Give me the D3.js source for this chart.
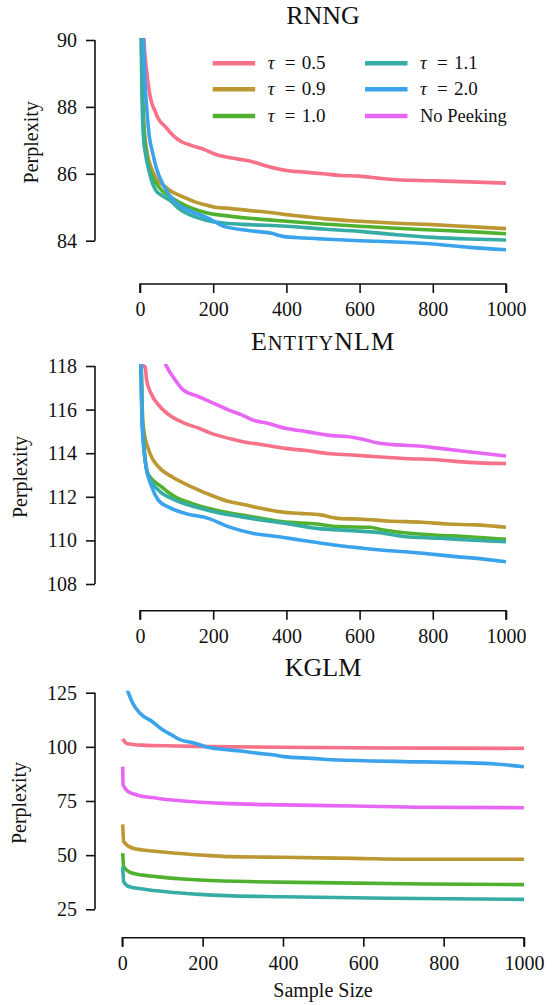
<!DOCTYPE html>
<html>
<head>
<meta charset="utf-8">
<script src="https://cdn.jsdelivr.net/npm/d3@7"></script>
<style>
  body { margin: 0; background: #fff; }
  svg { display: block; }
  text { font-family: "Liberation Serif", "DejaVu Serif", serif; fill: #111; }
</style>
</head>
<body>
<svg id="chart" width="554" height="1005"></svg>
<script>
// series labels + colours (husl palette)
const seriesNames = ["0.5", "0.9", "1.0", "1.1", "2.0", "No Peeking"]
const colors = ["#f77189", "#bb9832", "#50b131", "#36ada4", "#3ba3ec", "#e866f4"]

const xTicks = [0, 200, 400, 600, 800, 1000]

// RNNG  [sample size, perplexity]
const rnngT05 = [[0, 95], [10, 90.2], [18, 89.1], [25, 88.5], [30, 88.2], [40, 87.9], [50, 87.65], [70, 87.4], [90, 87.15], [115, 86.95], [140, 86.85], [170, 86.75], [210, 86.57], [250, 86.47], [300, 86.38], [350, 86.22], [400, 86.1], [450, 86.05], [500, 86.0], [550, 85.95], [600, 85.93], [650, 85.87], [700, 85.82], [800, 85.79], [900, 85.76], [1000, 85.72]]
const rnngT09 = [[0, 93], [5, 89.5], [10, 87.6], [20, 86.6], [30, 86.2], [45, 85.85], [68, 85.62], [85, 85.48], [109, 85.35], [130, 85.25], [150, 85.16], [175, 85.08], [205, 85.0], [250, 84.96], [300, 84.9], [350, 84.85], [400, 84.78], [450, 84.72], [500, 84.66], [600, 84.58], [700, 84.52], [800, 84.48], [900, 84.42], [1000, 84.36]]
const rnngT10 = [[0, 93], [5, 89.3], [10, 87.4], [20, 86.4], [30, 86.0], [45, 85.7], [60, 85.5], [77, 85.36], [105, 85.16], [141, 84.97], [187, 84.82], [232, 84.75], [300, 84.67], [400, 84.58], [500, 84.5], [600, 84.43], [700, 84.37], [800, 84.32], [900, 84.27], [1000, 84.21]]
const rnngT11 = [[0, 93], [5, 88.6], [9, 87.16], [15, 86.6], [23, 86.16], [36, 85.66], [45, 85.48], [59, 85.36], [87, 85.16], [105, 84.97], [137, 84.77], [178, 84.62], [232, 84.52], [300, 84.48], [400, 84.43], [500, 84.35], [600, 84.28], [700, 84.18], [800, 84.1], [900, 84.05], [1000, 84.02]]
const rnngT20 = [[0, 95], [9, 90.1], [14, 88.65], [17, 88.16], [25, 87.16], [35, 86.6], [45, 86.16], [64, 85.66], [96, 85.16], [141, 84.87], [187, 84.67], [215, 84.5], [223, 84.45], [300, 84.3], [360, 84.22], [390, 84.13], [450, 84.08], [500, 84.05], [600, 84.0], [700, 83.96], [800, 83.9], [900, 83.8], [1000, 83.73]]
const rnngNoPeek = []

// EntityNLM
const entT05 = [[0, 122], [9, 118], [14, 117.97], [18, 117.36], [30, 116.75], [55, 116.13], [87, 115.67], [123, 115.37], [160, 115.15], [195, 114.91], [250, 114.65], [282, 114.53], [339, 114.38], [397, 114.22], [455, 114.12], [512, 113.99], [580, 113.92], [647, 113.84], [724, 113.76], [820, 113.69], [897, 113.58], [1000, 113.53]]
const entT09 = [[0, 121], [5, 116.8], [9, 115.22], [27, 114.0], [50, 113.38], [87, 112.92], [141, 112.46], [205, 112.0], [243, 111.78], [291, 111.62], [330, 111.47], [378, 111.32], [436, 111.24], [493, 111.17], [541, 111.01], [609, 110.97], [676, 110.89], [772, 110.83], [840, 110.75], [917, 110.71], [1000, 110.6]]
const entT10 = [[0, 121], [5, 116.2], [10, 114.6], [21, 113.08], [59, 112.46], [96, 112.0], [141, 111.7], [205, 111.39], [278, 111.16], [320, 111.05], [387, 110.86], [484, 110.75], [541, 110.63], [628, 110.6], [657, 110.5], [724, 110.35], [801, 110.25], [897, 110.17], [1000, 110.05]]
const entT11 = [[0, 121], [5, 116.0], [10, 114.4], [23, 112.92], [50, 112.31], [96, 111.85], [150, 111.54], [214, 111.27], [278, 111.08], [330, 110.94], [397, 110.78], [484, 110.55], [580, 110.45], [657, 110.35], [724, 110.17], [820, 110.1], [897, 110.02], [1000, 109.94]]
const entT20 = [[0, 121], [5, 115.6], [14, 113.69], [32, 112.46], [50, 111.85], [77, 111.54], [123, 111.24], [187, 111.01], [241, 110.63], [310, 110.32], [378, 110.17], [436, 110.02], [484, 109.9], [551, 109.74], [609, 109.64], [657, 109.56], [724, 109.48], [772, 109.41], [849, 109.28], [945, 109.13], [1000, 109.02]]
const entNoPeek = [[0, 124], [20, 121], [45, 119.2], [73, 117.97], [96, 117.36], [118, 116.9], [159, 116.6], [200, 116.3], [241, 115.99], [278, 115.76], [312, 115.5], [349, 115.37], [397, 115.14], [455, 114.99], [512, 114.83], [580, 114.73], [609, 114.64], [647, 114.48], [705, 114.38], [762, 114.33], [820, 114.22], [897, 114.07], [1000, 113.87]]

// KGLM
const kglmT05 = [[1, 103.6], [11, 101.6], [48, 100.8], [136, 100.4], [224, 100.1], [400, 99.8], [665, 99.5], [1000, 99.3]]
const kglmT09 = [[1, 64.2], [3.5, 56.2], [26, 53.2], [51, 52.4], [93, 51.6], [134, 50.9], [217, 49.8], [267, 49.3], [400, 49.0], [577, 48.5], [753, 48.1], [1000, 48.1]]
const kglmT10 = [[1, 50.9], [3.5, 44.7], [26, 41.6], [84, 40.1], [150, 39.0], [250, 38.1], [312, 37.8], [488, 37.3], [753, 36.7], [1000, 36.4]]
const kglmT11 = [[1, 44.7], [3.5, 37.7], [18, 35.4], [51, 34.4], [109, 33.1], [192, 31.9], [258, 31.3], [400, 30.8], [665, 30.1], [1000, 29.6]]
const kglmT20 = [[0, 133], [8, 129], [15, 125], [26, 120.1], [44, 115.5], [75, 111.6], [101, 107.8], [123, 105.5], [145, 103.2], [176, 101.9], [207, 100.1], [242, 99.0], [295, 98.1], [339, 97.0], [379, 96.2], [401, 95.5], [471, 94.7], [541, 93.9], [621, 93.5], [700, 93.2], [841, 92.7], [929, 92.1], [1000, 90.8]]
const kglmNoPeek = [[1, 90.8], [2, 82.4], [15, 79.3], [36, 77.8], [86, 76.3], [152, 75.0], [252, 73.9], [400, 73.2], [577, 72.7], [753, 72.1], [1000, 71.9]]

const rnngTicks = [84, 86, 88, 90]
const entTicks = [108, 110, 112, 114, 116, 118]
const kglmTicks = [25, 50, 75, 100, 125]

// layout (pixels)
const panels = [
  {title: "RNNG", series: [rnngT05, rnngT09, rnngT10, rnngT11, rnngT20, rnngNoPeek], yTicks: rnngTicks,
   x0: 140, x1: 506, yTop: 40, yBot: 240.7, xAxisY: 284, titleY: 24, labelX: 38, legend: true},
  {title: "ENTITYNLM", series: [entT05, entT09, entT10, entT11, entT20, entNoPeek], yTicks: entTicks,
   x0: 140, x1: 506, yTop: 366, yBot: 584, xAxisY: 610.7, titleY: 350, labelX: 27},
  {title: "KGLM", series: [kglmT05, kglmT09, kglmT10, kglmT11, kglmT20, kglmNoPeek], yTicks: kglmTicks,
   x0: 122.3, x1: 524, yTop: 692.7, yBot: 909.3, xAxisY: 937.7, titleY: 676, labelX: 26, xLabel: "Sample Size"}
]

const svg = d3.select("#chart")
const yAxisX = 95
const tickLen = 9

panels.forEach((p, i) => {
  const x = d3.scaleLinear().domain([0, 1000]).range([p.x0, p.x1])
  const y = d3.scaleLinear().domain(d3.extent(p.yTicks)).range([p.yBot, p.yTop])
  const g = svg.append("g")

  g.append("clipPath").attr("id", "clip" + i)
    .append("rect")
    .attr("x", p.x0 - 5).attr("y", p.yTop - 2)
    .attr("width", p.x1 - p.x0 + 10).attr("height", p.xAxisY - p.yTop - 5)

  const line = d3.line()
    .x(d => x(d[0]))
    .y(d => y(d[1]))
    .curve(d3.curveMonotoneX)

  g.append("g").attr("clip-path", `url(#clip${i})`)
    .selectAll("path")
    .data(p.series)
    .join("path")
    .attr("d", d => d.length ? line(d) : null)
    .attr("fill", "none")
    .attr("stroke", (d, k) => colors[k])
    .attr("stroke-width", 3.6)
    .attr("stroke-linejoin", "round")

  // y axis
  const yAxis = d3.axisLeft(y).tickValues(p.yTicks).tickSize(tickLen).tickPadding(9).tickFormat(d3.format("d"))
  const ya = g.append("g").attr("transform", `translate(${yAxisX},0)`).call(yAxis)
  // x axis
  const xAxis = d3.axisBottom(x).tickValues(xTicks).tickSize(tickLen).tickPadding(9).tickFormat(d3.format("d"))
  const xa = g.append("g").attr("transform", `translate(0,${p.xAxisY})`).call(xAxis)

  ;[ya, xa].forEach(a => {
    a.attr("font-family", null)
    a.select(".domain").attr("stroke", "#111").attr("stroke-width", 1.6)
    a.selectAll(".tick line").attr("stroke", "#111").attr("stroke-width", 1.6)
    a.selectAll(".tick text").attr("font-size", 20).attr("fill", "#111")
      .style("font-family", '"Liberation Serif", serif')
  })
  ya.select(".domain").attr("d", `M0,${p.yBot}V${p.yTop}`)
  xa.select(".domain").attr("d", `M${p.x0},${tickLen}V0H${p.x1}V${tickLen}`)

  // title
  const t = g.append("text").attr("x", 323).attr("y", p.titleY)
    .attr("text-anchor", "middle").attr("font-size", 26)
  if (p.title === "ENTITYNLM") {
    t.attr("letter-spacing", 1)
    t.append("tspan").text("E")
    t.append("tspan").attr("font-size", 20.5).text("NTITY")
    t.append("tspan").text("NLM")
  } else {
    t.text(p.title)
  }

  // y label
  g.append("text")
    .attr("transform", `translate(${p.labelX},${(p.yTop + p.yBot) / 2 + 2}) rotate(-90)`)
    .attr("text-anchor", "middle").attr("font-size", 20)
    .text("Perplexity")

  if (p.xLabel) {
    g.append("text").attr("x", 323).attr("y", 997)
      .attr("text-anchor", "middle").attr("font-size", 20)
      .text(p.xLabel)
  }

  if (p.legend) {
    const rows = [63.3, 89.3, 116]
    const cols = [212.7, 365]
    const items = g.append("g").selectAll("g")
      .data(seriesNames)
      .join("g")
      .attr("transform", (d, k) => `translate(${cols[Math.floor(k / 3)]},${rows[k % 3]})`)
    items.append("line")
      .attr("x1", 0).attr("x2", 42.5)
      .attr("stroke", (d, k) => colors[k]).attr("stroke-width", 4.5)
    items.each(function (d) {
      const s = d3.select(this)
      if (d === "No Peeking") {
        s.append("text").attr("x", 55).attr("y", 6).attr("font-size", 18.5).text(d)
      } else {
        s.append("text").attr("x", 55).attr("y", 6).attr("font-size", 19)
          .attr("font-style", "italic").text("τ")
        s.append("text").attr("x", 72).attr("y", 6).attr("font-size", 19).text("=")
        s.append("text").attr("x", 89).attr("y", 6).attr("font-size", 19).text(d)
      }
    })
  }
})
</script>
</body>
</html>
